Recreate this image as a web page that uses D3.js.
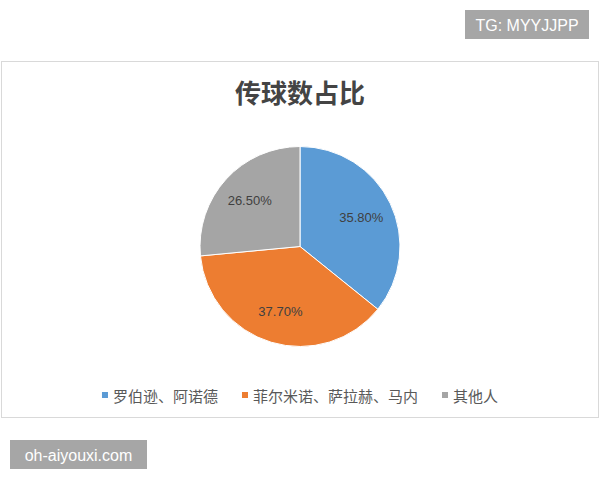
<!DOCTYPE html>
<html>
<head>
<meta charset="utf-8">
<title>传球数占比</title>
<style>
    html, body { margin: 0; padding: 0; background: #fff; }
    svg { display: block; }
</style>
</head>
<body>
<main></main>
<script src="https://cdn.jsdelivr.net/npm/d3@7/dist/d3.min.js"></script>
<script>
    // 数据 ============================
    var categories = ["罗伯逊、阿诺德", "菲尔米诺、萨拉赫、马内", "其他人"];
    var values = [35.8, 37.7, 26.5];
    var labels = ["35.80%", "37.70%", "26.50%"];
    var colors = ["#5b9bd5", "#ed7d31", "#a5a5a5"];

    var width = 600;
    var height = 480;
    var cx = 300, cy = 246.5, radius = 100;

    var svg = d3.select("main")
        .append("svg")
        .attr("width", width)
        .attr("height", height);

    // 水印 ============================
    svg.append("rect")
        .attr("x", 465).attr("y", 10)
        .attr("width", 124).attr("height", 29)
        .attr("fill", "#a6a6a6");
    svg.append("text")
        .attr("x", 527).attr("y", 25)
        .attr("text-anchor", "middle")
        .attr("dominant-baseline", "central")
        .attr("font-family", "Liberation Sans, Arial, sans-serif")
        .attr("font-size", "16px")
        .attr("fill", "#fff")
        .text("TG: MYYJJPP");

    svg.append("rect")
        .attr("x", 10).attr("y", 440)
        .attr("width", 137).attr("height", 29)
        .attr("fill", "#a6a6a6");
    svg.append("text")
        .attr("x", 78.5).attr("y", 455)
        .attr("text-anchor", "middle")
        .attr("dominant-baseline", "central")
        .attr("font-family", "Liberation Sans, Arial, sans-serif")
        .attr("font-size", "16px")
        .attr("fill", "#fff")
        .text("oh-aiyouxi.com");

    // 图表外框 ========================
    svg.append("rect")
        .attr("x", 1.5).attr("y", 61.5)
        .attr("width", 597).attr("height", 356)
        .attr("fill", "#fff")
        .attr("stroke", "#d9d9d9")
        .attr("stroke-width", 1);

    // 标题 ============================
    svg.append("text")
        .attr("x", 300).attr("y", 91)
        .attr("text-anchor", "middle")
        .attr("dominant-baseline", "central")
        .attr("font-family", "Noto Sans CJK SC, sans-serif")
        .attr("font-size", "26px")
        .attr("font-weight", "bold")
        .attr("fill", "#444")
        .text("传球数占比");

    // 饼图 ============================
    var pie = d3.pie().sort(null).value(function (d) { return d; });
    var arcs = pie(values);
    var arc = d3.arc().innerRadius(0).outerRadius(radius);
    var labelArc = d3.arc().innerRadius(68).outerRadius(68);

    var g = svg.append("g").attr("transform", "translate(" + cx + "," + cy + ")");

    g.selectAll("path")
        .data(arcs)
        .enter()
        .append("path")
        .attr("d", arc)
        .attr("fill", function (d, i) { return colors[i]; })
        .attr("stroke", "#fff")
        .attr("stroke-width", 1);

    g.selectAll("text")
        .data(arcs)
        .enter()
        .append("text")
        .attr("transform", function (d) { return "translate(" + labelArc.centroid(d) + ")"; })
        .attr("text-anchor", "middle")
        .attr("dominant-baseline", "central")
        .attr("font-family", "Liberation Sans, Arial, sans-serif")
        .attr("font-size", "13px")
        .attr("fill", "#404040")
        .text(function (d, i) { return labels[i]; });

    // 图例 ============================
    var legend = svg.append("g");
    var items = legend.selectAll("g")
        .data(categories)
        .enter()
        .append("g");

    items.append("rect")
        .attr("width", 6).attr("height", 6)
        .attr("y", -3)
        .attr("fill", function (d, i) { return colors[i]; });

    items.append("text")
        .attr("x", 11)
        .attr("dominant-baseline", "central")
        .attr("font-family", "Noto Sans CJK SC, sans-serif")
        .attr("font-size", "15px")
        .attr("fill", "#595959")
        .text(function (d) { return d; });

    // 计算图例位置，整体居中
    var gap = 24;
    var offsets = [];
    var total = 0;
    items.each(function (d, i) {
        var w = 11 + d3.select(this).select("text").node().getComputedTextLength();
        offsets.push(total);
        total += w + (i < categories.length - 1 ? gap : 0);
    });
    var startX = 300 - total / 2;
    items.attr("transform", function (d, i) {
        return "translate(" + (startX + offsets[i]) + ",395)";
    });
</script>
</body>
</html>
